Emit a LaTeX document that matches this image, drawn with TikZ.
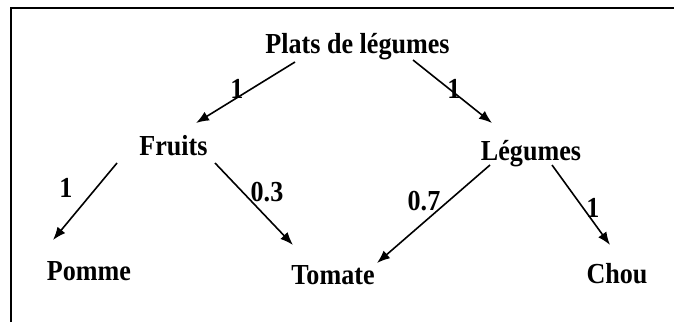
\documentclass[tikz,border=0pt]{standalone}
\usepackage{fontspec}
\setmainfont{Liberation Serif}
\newfontfamily\dfont{Liberation Serif Bold}[FakeStretch=0.9]
\usetikzlibrary{arrows.meta}
\begin{document}
\begin{tikzpicture}[x=1pt,y=1pt,
  lbl/.style={font=\dfont\fontsize{29}{33}\selectfont, inner sep=0pt, anchor=base},
  wt/.style={font=\dfont\fontsize{29}{33}\selectfont, inner sep=0pt, anchor=center},
  arr/.style={line width=1.6pt, -{Latex[length=13pt,width=10pt]}},
  frame/.style={line width=2pt}]
\useasboundingbox (0,0) rectangle (674,322);
\draw[frame] (11,0) -- (11,314) -- (674,314);
\node[lbl] (plats) at (357.5,269) {Plats de légumes};
\node[lbl] (fruits) at (173.5,167) {Fruits};
\node[lbl] (legumes) at (531,162) {Légumes};
\node[lbl] (pomme) at (89,42) {Pomme};
\node[lbl] (tomate) at (333,38) {Tomate};
\node[lbl] (chou) at (617,39) {Chou};
\draw[arr] ([shift={(-62.5,-9)}]plats.base) -- ([shift={(22.5,32)}]fruits.base);
\draw[arr] ([shift={(55.5,-7)}]plats.base) -- ([shift={(-39,37)}]legumes.base);
\draw[arr] ([shift={(-56.5,-8)}]fruits.base) -- ([shift={(-36,40)}]pomme.base);
\draw[arr] ([shift={(41.5,-8)}]fruits.base) -- ([shift={(-40,39)}]tomate.base);
\draw[arr] ([shift={(-41,-5)}]legumes.base) -- ([shift={(44,21)}]tomate.base);
\draw[arr] ([shift={(21,-5)}]legumes.base) -- ([shift={(-7,38)}]chou.base);
\node[wt] (w1) at (237,233) {1};
\node[wt] (w2) at (454,233) {1};
\node[wt] (w3) at (66,134) {1};
\node[wt] (w4) at (267,130) {0.3};
\node[wt] (w5) at (424,121) {0.7};
\node[wt] (w6) at (593,114) {1};
\end{tikzpicture}
\end{document}
